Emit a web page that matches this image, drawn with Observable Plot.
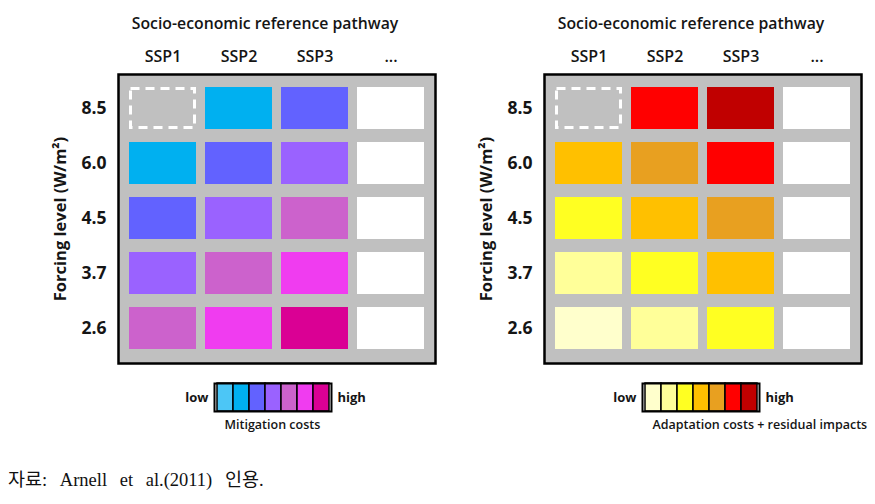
<!DOCTYPE html>
<html><head><meta charset="utf-8">
<script src="https://cdn.jsdelivr.net/npm/d3@7"></script>
<script src="https://cdn.jsdelivr.net/npm/@observablehq/plot@0.6"></script>
<style>
body{margin:0;background:#fff;}
#wrap{position:relative;width:875px;height:504px;overflow:hidden;background:#fff;}
.abs{position:absolute;}
.abs svg{max-width:none !important;}
#cap{left:8px;top:465px;font-family:'Liberation Serif','Noto Sans CJK KR',serif;font-size:18.5px;word-spacing:8px;color:#111;white-space:nowrap;}
</style></head><body>
<div id="wrap">
<div id="main" class="abs" style="left:0;top:0;width:875px"></div>
<div id="legL" class="abs" style="left:174px;top:377px;width:250px"></div>
<div id="legR" class="abs" style="left:602px;top:377px;width:270px"></div>
<div id="cap" class="abs"></div>
</div>
<script>
// ---- data ----
const panels = ["mitigation", "adaptation"];
const panelTitle = "Socio-economic reference pathway";
const pathways = ["SSP1", "SSP2", "SSP3", "..."];
const forcing = ["8.5", "6.0", "4.5", "3.7", "2.6"];
const yTitle = "Forcing level (W/m²)";
// cost class per cell (rows = forcing, cols = pathways): 1 = low ... 7 = high,
// 0 = combination not possible (dashed), null = not yet defined (blank)
const mitigationLevels = [
  [0, 2, 3, null],
  [2, 3, 4, null],
  [3, 4, 5, null],
  [4, 5, 6, null],
  [5, 6, 7, null]
];
const adaptationLevels = [
  [0, 6, 7, null],
  [4, 5, 6, null],
  [3, 4, 5, null],
  [2, 3, 4, null],
  [1, 2, 3, null]
];
const legendClasses = [1, 2, 3, 4, 5, 6, 7];
const mitigationColors = ["#4cc6f6", "#00b0f0", "#6262ff", "#9a62ff", "#cc62cc", "#f03cf0", "#da0094"];
const adaptationColors = ["#ffffcc", "#ffff99", "#ffff22", "#ffc000", "#e8a020", "#ff0000", "#c00000"];
const legendEnds = ["low", "high"];
const legendTitles = ["Mitigation costs", "Adaptation costs + residual impacts"];
const caption = "자료: Arnell et al.(2011) 인용.";

// ---- build table ----
const levelsBy = {mitigation: mitigationLevels, adaptation: adaptationLevels};
const colorsBy = {mitigation: mitigationColors, adaptation: adaptationColors};
const cells = [];
for (const p of panels) {
  forcing.forEach((f, i) => pathways.forEach((s, j) => {
    cells.push({panel: p, forcing: f, pathway: s, level: levelsBy[p][i][j]});
  }));
}
const fillOf = d => d.level == null ? "#ffffff" : d.level === 0 ? "none" : colorsBy[d.panel][d.level - 1];

const FONT = "'Open Sans', sans-serif";
const INK = "#151515";

const main = Plot.plot({
  width: 875, height: 370,
  marginLeft: 118, marginRight: 13, marginTop: 74, marginBottom: 7,
  style: {fontFamily: FONT, color: INK, background: "white"},
  fx: {domain: panels, axis: null, paddingInner: 0.2556, paddingOuter: 0},
  x: {domain: pathways, axis: null, paddingInner: 0.113, paddingOuter: 0.13},
  y: {domain: forcing, axis: null, paddingInner: 0.228, paddingOuter: 0.226},
  color: {type: "identity"},
  marks: [
    Plot.frame({fill: "#c0c0c0"}),
    Plot.cell(cells.filter(d => d.level !== 0), {x: "pathway", y: "forcing", fx: "panel", fill: fillOf}),
    Plot.cell(cells.filter(d => d.level === 0), {x: "pathway", y: "forcing", fx: "panel", fill: "none", stroke: "white", strokeWidth: 3, strokeDasharray: "9,6", inset: 1.5}),
    Plot.frame({stroke: "black", strokeWidth: 2.5}),
    Plot.text(forcing, {y: d => d, frameAnchor: "left", dx: -12, textAnchor: "end", fontSize: 17.5, fontWeight: "bold"}),
    Plot.text(pathways, {x: d => d, frameAnchor: "top", dy: -24, fontSize: 16, fontWeight: 600}),
    Plot.text([panelTitle], {frameAnchor: "top", dy: -57, dx: -12, fontSize: 15.8, fontWeight: 600}),
    Plot.text([yTitle], {frameAnchor: "left", dx: -58, rotate: -90, textAnchor: "middle", fontSize: 16.5, fontWeight: "bold"})
  ]
});
document.getElementById("main").appendChild(main);

function legend(colors, title, width) {
  return Plot.plot({
    width, height: 66,
    marginLeft: 40, marginRight: width - 40 - 117, marginTop: 6, marginBottom: 32,
    style: {fontFamily: FONT, color: INK, background: "transparent"},
    x: {domain: legendClasses, axis: null, padding: 0},
    y: {axis: null},
    color: {type: "identity"},
    marks: [
      Plot.cell(legendClasses, {x: d => d, fill: d => colors[d - 1], stroke: "black", strokeWidth: 1.5}),
      Plot.frame({stroke: "black", strokeWidth: 2}),
      Plot.text([legendEnds[0]], {frameAnchor: "left", dx: -6, textAnchor: "end", fontSize: 13, fontWeight: "bold"}),
      Plot.text([legendEnds[1]], {frameAnchor: "right", dx: 6, textAnchor: "start", fontSize: 13, fontWeight: "bold"}),
      Plot.text([title], {frameAnchor: "bottom-left", dx: 10, dy: 17, textAnchor: "start", fontSize: 12.5, fontWeight: 600})
    ]
  });
}
document.getElementById("legL").appendChild(legend(mitigationColors, legendTitles[0], 250));
document.getElementById("legR").appendChild(legend(adaptationColors, legendTitles[1], 270));
document.getElementById("cap").textContent = caption;
</script>
</body></html>
